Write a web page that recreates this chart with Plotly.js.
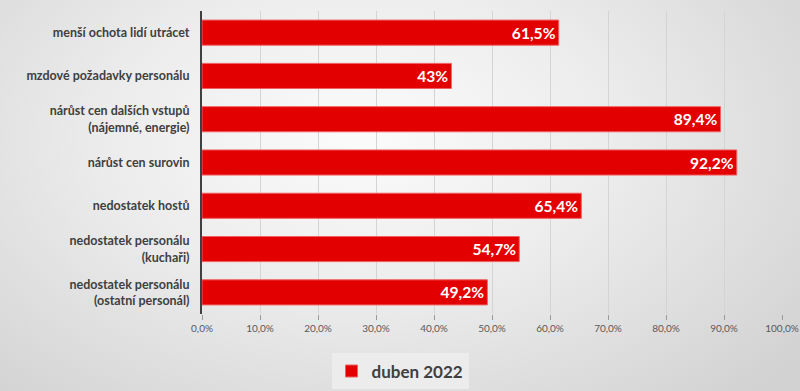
<!DOCTYPE html>
<html>
<head>
<meta charset="utf-8">
<script src="https://cdn.plot.ly/plotly-3.0.1.min.js"></script>
<style>
html,body{margin:0;padding:0;}
#chart{width:800px;height:391px;background:radial-gradient(ellipse 70% 90% at 45% 35%, #fbfbfb 0%, #ececec 45%, #d2d2d2 100%);}
</style>
</head>
<body>
<div id="chart"></div>
<script>
const categories = [
  "menší ochota lidí utrácet",
  "mzdové požadavky personálu",
  "nárůst cen dalších vstupů<br>(nájemné, energie)",
  "nárůst cen surovin",
  "nedostatek hostů",
  "nedostatek personálu<br>(kuchaři)",
  "nedostatek personálu<br>(ostatní personál)"
];
const values = [61.5, 43, 89.4, 92.2, 65.4, 54.7, 49.2];
const seriesName = "duben 2022";
const tickVals = [0, 10, 20, 30, 40, 50, 60, 70, 80, 90, 100];
const tickText = ["0,0%", "10,0%", "20,0%", "30,0%", "40,0%", "50,0%", "60,0%", "70,0%", "80,0%", "90,0%", "100,0%"];

const labels = values.map(v => String(v).replace('.', ',') + '%');
const font = "'Lato', 'DejaVu Sans', sans-serif";

Plotly.newPlot('chart', [{
  type: 'bar',
  orientation: 'h',
  y: categories,
  x: values,
  name: seriesName,
  text: labels,
  textposition: 'inside',
  insidetextanchor: 'end',
  textfont: {family: font, size: 18, color: '#ffffff', weight: 'bold'},
  marker: {color: '#e30000', line: {color: '#f06060', width: 1}},
  hoverinfo: 'skip'
}], {
  width: 800, height: 391,
  margin: {l: 202, r: 18, t: 11, b: 77},
  paper_bgcolor: 'rgba(0,0,0,0)',
  plot_bgcolor: 'rgba(0,0,0,0)',
  separators: ',.',
  bargap: 0.42,
  showlegend: true,
  xaxis: {
    range: [0, 100],
    tickmode: 'array',
    tickvals: tickVals,
    ticktext: tickText,
    ticks: 'outside', ticklen: 5, tickcolor: '#9a9a9a',
    tickfont: {family: font, size: 10, color: '#595959'},
    showgrid: true, gridcolor: '#d4d4d4', gridwidth: 1,
    zeroline: false, showline: false, fixedrange: true
  },
  yaxis: {
    autorange: 'reversed',
    ticks: '', ticklabelstandoff: 8,
    tickfont: {family: font, size: 12.5, color: '#404040', weight: 'bold'},
    showline: true, linecolor: '#404040', linewidth: 2,
    showgrid: false, fixedrange: true
  },
  legend: {
    orientation: 'h',
    xref: 'container', yref: 'container',
    x: 0.5, xanchor: 'center', y: 0.05, yanchor: 'middle',
    bgcolor: '#ececec',
    font: {family: font, size: 17, color: '#404040', weight: 'bold'},
    itemwidth: 30
  }
}, {displayModeBar: false, staticPlot: true});
</script>
</body>
</html>
